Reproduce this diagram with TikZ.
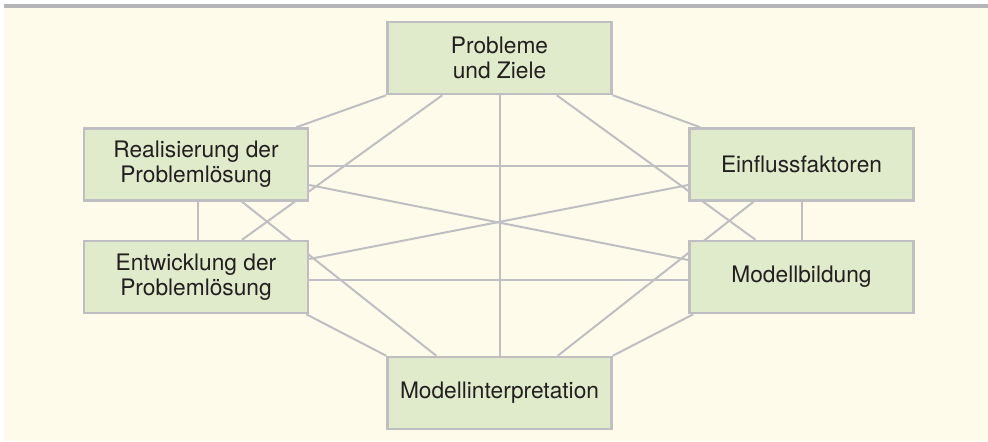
\documentclass[tikz,border=0pt]{standalone}
\usepackage{fontspec}
\setmainfont{TeX Gyre Heros}
\usepackage{xcolor}
\usetikzlibrary{calc}
\pgfdeclarelayer{bg}
\pgfsetlayers{bg,main}
\definecolor{cream}{HTML}{FFFBEA}
\definecolor{boxgreen}{HTML}{DFEBCA}
\definecolor{linkgray}{HTML}{BEBEC3}
\definecolor{rulegray}{HTML}{B5B5B8}
\definecolor{txt}{HTML}{231F20}

\begin{document}
\begin{tikzpicture}[x=0.03cm,y=-0.03cm,
  link/.style={line width=1.7pt,linkgray},
  stage/.style={draw=linkgray,line width=2.1pt,fill=boxgreen,minimum width=6.72cm,minimum height=2.16cm,
    inner sep=0pt,align=center,text=txt,font=\fontsize{19.4}{21.6}\selectfont}]
  \useasboundingbox (0,0) rectangle (988,441);
  \begin{pgfonlayer}{bg}
    \fill[cream] (4,8) rectangle (988,441);
    \draw[line width=2.6pt,rulegray] (4,6) -- (988,6);
  \end{pgfonlayer}
  \node[stage] (goals) at (499.5,58) {Probleme\\und Ziele};
  \node[stage] (realize) at (196,164.5) {Realisierung der\\Problemlösung};
  \node[stage] (develop) at (196,277) {Entwicklung der\\Problemlösung};
  \node[stage] (factors) at (801.5,164.5) {Einflussfaktoren};
  \node[stage] (model) at (801.5,277) {Modellbildung};
  \node[stage] (interp) at (499.5,393) {Modellinterpretation};
  \begin{pgfonlayer}{bg}
    \foreach \a/\b in {{(goals.south west)}/{($(realize.north east)+(-13,0)$)},
        {($(goals.south west)+(56,0)$)}/{($(develop.north)+(46,0)$)},
        {(goals.south)}/{(interp.north)},
        {($(goals.south east)+(-56,0)$)}/{($(model.north)+(-46,0)$)},
        {(goals.south east)}/{($(factors.north west)+(12,0)$)},
        {($(realize.east)+(0,1.5)$)}/{($(factors.west)+(0,1.5)$)},
        {($(realize.east)+(0,20.5)$)}/{($(model.west)+(0,-17)$)},
        {($(develop.east)+(0,-18)$)}/{($(factors.west)+(0,20.5)$)},
        {($(develop.east)+(0,3)$)}/{($(model.west)+(0,3)$)},
        {($(realize.south)+(2,0)$)}/{($(develop.north)+(2,0)$)},
        {(factors.south)}/{(model.north)},
        {($(realize.south)+(46,0)$)}/{($(interp.north west)+(50,0)$)},
        {($(factors.south)+(-48,0)$)}/{($(interp.north east)+(-55,0)$)},
        {($(develop.south east)+(-3,0)$)}/{(interp.north west)},
        {($(model.south west)+(5,0)$)}/{(interp.north east)}}
      {\draw[link] \a -- \b;}
  \end{pgfonlayer}
\end{tikzpicture}
\end{document}
